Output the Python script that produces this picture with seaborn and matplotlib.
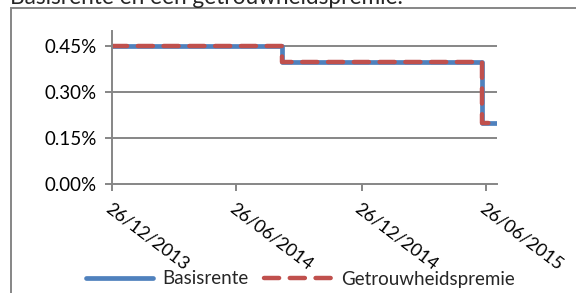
import matplotlib
matplotlib.use("Agg")
import matplotlib.pyplot as plt
from matplotlib.patches import Rectangle
import seaborn as sns
import pandas as pd

# ---- data ----
dates = ["2013-12-26", "2014-09-01", "2015-06-20", "2015-07-12"]
basisrente = [0.45, 0.40, 0.20, 0.20]
getrouwheidspremie = [0.45, 0.40, 0.20, 0.20]
tick_dates = ["2013-12-26", "2014-06-26", "2014-12-26", "2015-06-26"]
tick_labels = ["26/12/2013", "26/06/2014", "26/12/2014", "26/06/2015"]
yticks = [0.00, 0.15, 0.30, 0.45]
ytick_labels = ["0.00%", "0.15%", "0.30%", "0.45%"]
title = "Basisrente en een getrouwheidspremie."
series_names = ["Basisrente", "Getrouwheidspremie"]

df = pd.DataFrame({
    "date": pd.to_datetime(dates * 2),
    "value": basisrente + getrouwheidspremie,
    "series": [series_names[0]] * len(dates) + [series_names[1]] * len(dates),
})

sns.set_theme(style="white")
plt.rcParams["font.family"] = ["Lato", "DejaVu Sans"]

W, H = 576, 293
fig = plt.figure(figsize=(W / 100, H / 100), dpi=100)
ax = fig.add_axes([112 / W, 1 - 184 / H, (497 - 112) / W, (184 - 31) / H])

blue = "#4F81BD"
red = "#C0504D"
d1 = df[df.series == series_names[0]]
d2 = df[df.series == series_names[1]]
sns.lineplot(data=d1, x="date", y="value", ax=ax, color=blue, lw=3.4,
             drawstyle="steps-post", label=series_names[0],
             solid_capstyle="round", solid_joinstyle="round")
sns.lineplot(data=d2, x="date", y="value", ax=ax, color=red, lw=3.2,
             drawstyle="steps-post", label=series_names[1],
             dashes=(3.4, 2.4), dash_capstyle="round", dash_joinstyle="round")

ax.set_xlim(pd.Timestamp(dates[0]), pd.Timestamp(dates[-1]))
ax.set_ylim(0, 0.5)
ax.set_yticks(yticks)
ax.set_yticklabels(ytick_labels)
ax.set_xticks(pd.to_datetime(tick_dates))
ax.set_xticklabels(tick_labels, rotation=-37, ha="left", va="top",
                   rotation_mode="anchor")
ax.set_xlabel("")
ax.set_ylabel("")

grey = "#868686"
for y in yticks[1:]:
    ax.axhline(y, color=grey, lw=1.4, zorder=0)
for s in ["top", "right"]:
    ax.spines[s].set_visible(False)
for s in ["left", "bottom"]:
    ax.spines[s].set_color(grey)
    ax.spines[s].set_linewidth(1.4)
ax.tick_params(axis="both", which="major", direction="out", length=5,
               width=1.4, color=grey, labelsize=13.5, labelcolor="black",
               left=True, bottom=True)
ax.tick_params(axis="y", pad=6)
ax.tick_params(axis="x", pad=7, labelsize=13)

leg = ax.legend(loc="center", bbox_to_anchor=(300 / W, 1 - 279 / H),
                bbox_transform=fig.transFigure, ncol=2, frameon=False,
                fontsize=13.5, handlelength=3.6, columnspacing=0.8,
                handletextpad=0.5, borderaxespad=0)

fig.text(10 / W, 1 - 4 / H, title, fontsize=16.3, ha="left", va="baseline")

fig.patches.append(Rectangle((11 / W, -0.2), 1.2, 1 - 8 / H + 0.2,
                             transform=fig.transFigure, fill=False,
                             edgecolor=grey, lw=1.4))

fig.savefig("out.png", dpi=100)
